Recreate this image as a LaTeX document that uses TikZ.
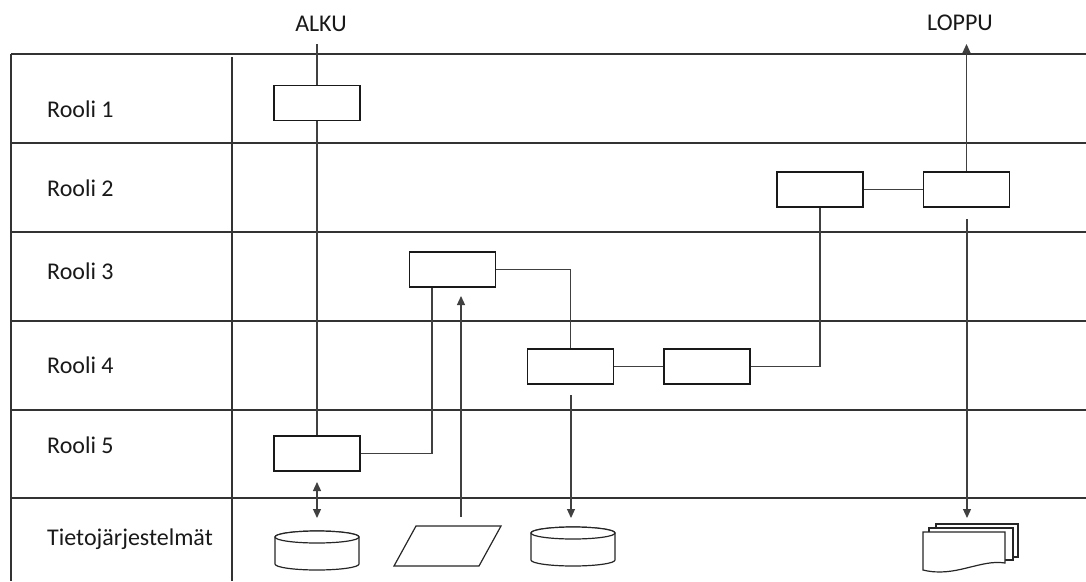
\documentclass[tikz,border=0pt]{standalone}
\usepackage{fontspec}
\setmainfont{Carlito}
\usetikzlibrary{arrows.meta}

\begin{document}
\begin{tikzpicture}[x=1pt,y=-1pt,
  lane/.style={line width=1.2pt, draw=black!80},
  task/.style={draw=black!90, line width=1.2pt, minimum width=86pt, minimum height=35pt, inner sep=0pt, fill=white},
  flow/.style={line width=1.2pt, draw=black!75},
  lbl/.style={font=\fontsize{24}{28}\selectfont, text=black!90, inner sep=0pt},
  tip/.style={-{Triangle[length=9pt,width=8pt]}},
  tips/.style={{Triangle[length=9pt,width=8pt]}-{Triangle[length=9pt,width=8pt]}},
  store/.style={line width=1.2pt, draw=black!85, fill=white}
]
\useasboundingbox (0,0) rectangle (1086,581);

% swimlane grid
\draw[lane] (11,54) -- (1086,54);
\draw[lane] (11,143) -- (1086,143);
\draw[lane] (11,232) -- (1086,232);
\draw[lane] (11,321) -- (1086,321);
\draw[lane] (11,410) -- (1086,410);
\draw[lane] (11,498) -- (1086,498);
\draw[lane] (11,54) -- (11,581);
\draw[lane] (232,57) -- (232,581);

% lane titles
\node[lbl, anchor=base west] (rooli1) at (47,117) {Rooli 1};
\node[lbl, anchor=base west] (rooli2) at (47,196) {Rooli 2};
\node[lbl, anchor=base west] (rooli3) at (47,279) {Rooli 3};
\node[lbl, anchor=base west] (rooli4) at (47,373) {Rooli 4};
\node[lbl, anchor=base west] (rooli5) at (47,453) {Rooli 5};
\node[lbl, anchor=base west] (tj) at (47,545) {Tietojärjestelmät};

% start and end labels
\node[lbl, anchor=base] (alku) at (321,31) {ALKU};
\node[lbl, anchor=base] (loppu) at (960,30) {LOPPU};
\coordinate (start) at (317,44);
\coordinate (end) at (966.5,44);

% process steps
\node[task] (t1) at (317,103) {};
\node[task] (t5) at (317,453.5) {};
\node[task] (t3) at (452.5,269.5) {};
\node[task] (t4a) at (570.5,366.5) {};
\node[task] (t4b) at (707,366.5) {};
\node[task] (t2a) at (820,189.5) {};
\node[task] (t2b) at (966.5,189.5) {};

% control flow
\draw[flow] (start) -- (t1.north);
\draw[flow] (t1.south) -- (t5.north);
\draw[flow] (t5.east) -| ([xshift=-20.5pt]t3.south);
\draw[flow] (t3.east) -| (t4a.north);
\draw[flow] (t4a.east) -- (t4b.west);
\draw[flow] (t4b.east) -| (t2a.south);
\draw[flow] (t2a.east) -- (t2b.west);
\draw[flow, tip] (t2b.north) -- (end);

% data flows to and from the systems
\coordinate (d1a) at (317,482);
\coordinate (d1b) at (317,518);
\coordinate (d2a) at (461,517);
\coordinate (d2b) at (461,296);
\coordinate (d3a) at (571,395);
\coordinate (d3b) at (571,518);
\coordinate (d4a) at (967,219);
\coordinate (d4b) at (967,518);
\draw[flow, tips] (d1a) -- (d1b);
\draw[flow, tip] (d2a) -- (d2b);
\draw[flow, tip] (d3a) -- (d3b);
\draw[flow, tip] (d4a) -- (d4b);

% database 1
\draw[store] (275,537) -- (275,564) arc[start angle=180, end angle=0, x radius=42, y radius=6]
  -- (359,537) arc[start angle=0, end angle=-180, x radius=42, y radius=6] -- cycle;
\draw[store] (317,537) ellipse[x radius=42, y radius=6];

% manual input
\draw[store] (416,526) -- (501,526) -- (479,566) -- (394,566) -- cycle;

% database 2
\draw[store] (531,533) -- (531,560) arc[start angle=180, end angle=0, x radius=42, y radius=6]
  -- (615,533) arc[start angle=0, end angle=-180, x radius=42, y radius=6] -- cycle;
\draw[store] (573,533) ellipse[x radius=42, y radius=6];

% multiple documents
\draw[store] (936,524) rectangle (1018,557);
\draw[store] (929,528) rectangle (1013,560);
\draw[store] (923,532) -- (1005,532) -- (1005,563)
  .. controls (980,559) and (955,578) .. (923,570) -- cycle;
\end{tikzpicture}
\end{document}
